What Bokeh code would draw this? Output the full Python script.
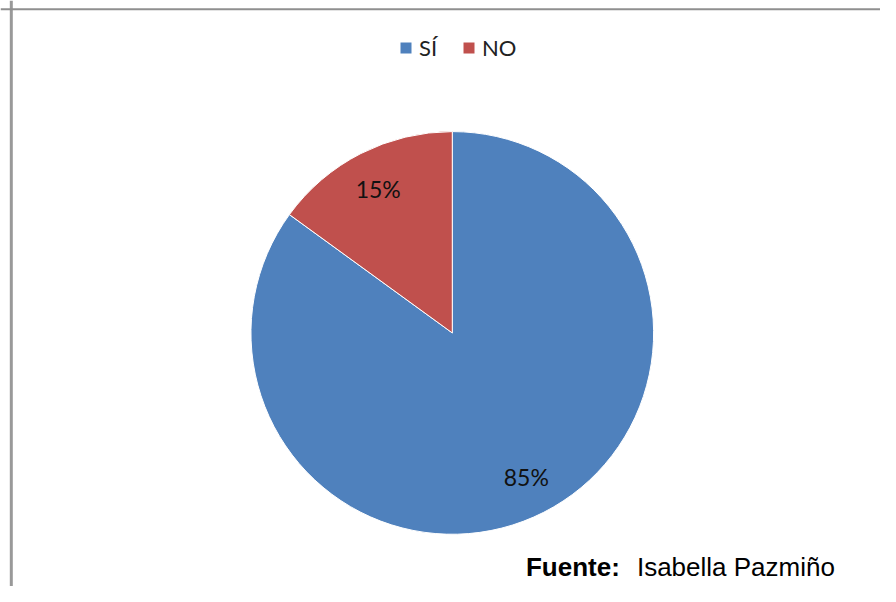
import math
from bokeh.plotting import figure
from bokeh.models import Range1d, Span, Legend, LegendItem, ColumnDataSource
from bokeh.core.properties import value
from bokeh.embed import file_html
from bokeh.resources import INLINE

# ---- data ----
categories = ["SÍ", "NO"]
shares = [85, 15]
colors = ["#4F81BD", "#C0504D"]
source_label = "Fuente:"
source_name = "Isabella Pazmiño"

W, H = 880, 586
# data units = reference pixels (896 x 602), y pointing up
p = figure(width=W, height=H, output_backend="svg", toolbar_location=None,
           x_range=Range1d(0, 896), y_range=Range1d(0, 602), min_border=0)
p.axis.visible = False
p.grid.visible = False
p.outline_line_color = None
p.background_fill_color = "white"
p.border_fill_color = "white"

# frame lines (left and top) like the reference
p.add_layout(Span(location=11, dimension="height", line_color="#999999", line_width=3))
p.add_layout(Span(location=593, dimension="width", line_color="#8f8f8f", line_width=2))

# pie: NO drawn first counter-clockwise from 12 o'clock, then SÍ
cx, cy, r = 460, 260.5, 205
order = [1, 0]
total = sum(shares)
start = math.pi / 2
starts, ends, mids = {}, {}, {}
for i in order:
    a = 2 * math.pi * shares[i] / total
    starts[i], ends[i] = start, start + a
    mids[i] = start + a / 2
    start += a

renderers = {}
for i in range(len(categories)):
    src = ColumnDataSource(dict(x=[cx], y=[cy], s=[starts[i]], e=[ends[i]]))
    renderers[i] = p.wedge(x="x", y="y", radius=r, start_angle="s", end_angle="e",
                           source=src, fill_color=colors[i], line_color="white",
                           line_width=1)

lab = ColumnDataSource(dict(
    x=[cx + 0.81 * r * math.cos(mids[i]) for i in range(len(categories))],
    y=[cy + 0.81 * r * math.sin(mids[i]) for i in range(len(categories))],
    t=[f"{shares[i]}%" for i in range(len(categories))]))
p.text(x="x", y="y", text="t", source=lab, text_font=value("Lato"),
       text_font_size="23px", text_color="#111111", text_align="center",
       text_baseline="middle")

legend = Legend(items=[LegendItem(label=categories[i], renderers=[renderers[i]])
                       for i in range(len(categories))],
                orientation="horizontal", location=(398, 525),
                glyph_width=15, glyph_height=15, label_standoff=6, spacing=22,
                padding=0, margin=0, border_line_color=None,
                background_fill_alpha=0, label_text_font="Lato",
                label_text_font_size="22px", label_text_color="#222222")
p.add_layout(legend, "center")

p.text(x=[535], y=[20], text=[source_label], text_font=value("Liberation Sans"),
       text_font_style="bold", text_font_size="26px", text_color="black",
       text_baseline="alphabetic")
p.text(x=[648], y=[20], text=[source_name], text_font=value("Liberation Sans"),
       text_font_size="26px", text_color="black", text_baseline="alphabetic")

open("out.html", "w").write(file_html(p, INLINE))
